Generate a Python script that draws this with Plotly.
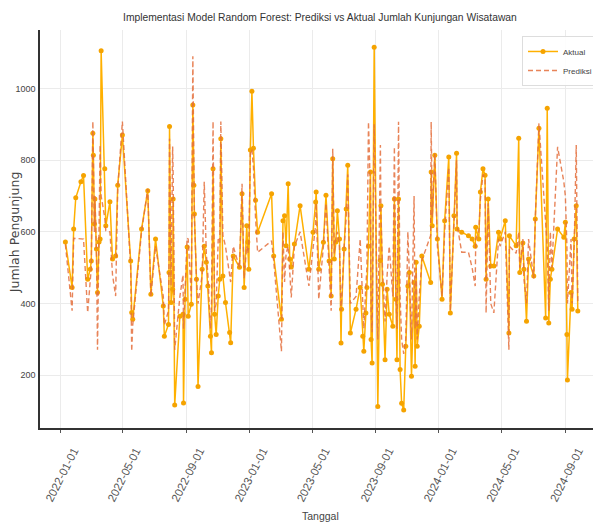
import plotly.graph_objects as go

dates = [
    "2022-01-10", "2022-01-23", "2022-01-26", "2022-01-30", "2022-02-09", "2022-02-14", "2022-02-22", "2022-02-27",
    "2022-03-01", "2022-03-04", "2022-03-05", "2022-03-07", "2022-03-08", "2022-03-11", "2022-03-13", "2022-03-16",
    "2022-03-18", "2022-03-20", "2022-03-27", "2022-03-29", "2022-04-06", "2022-04-11", "2022-04-17", "2022-04-21",
    "2022-04-30", "2022-05-16", "2022-05-18", "2022-05-20", "2022-06-06", "2022-06-18", "2022-06-24", "2022-07-03",
    "2022-07-18", "2022-07-20", "2022-07-28", "2022-07-29", "2022-07-30", "2022-08-02", "2022-08-05", "2022-08-06",
    "2022-08-09", "2022-08-19", "2022-08-25", "2022-08-26", "2022-08-29", "2022-09-02", "2022-09-04", "2022-09-10",
    "2022-09-13", "2022-09-15", "2022-09-16", "2022-09-20", "2022-09-23", "2022-10-01", "2022-10-05", "2022-10-09",
    "2022-10-12", "2022-10-17", "2022-10-19", "2022-10-22", "2022-10-25", "2022-10-28", "2022-11-01", "2022-11-04",
    "2022-11-06", "2022-11-10", "2022-11-15", "2022-11-23", "2022-11-25", "2022-11-30", "2022-12-12", "2022-12-17",
    "2022-12-21", "2022-12-26", "2022-12-28", "2022-12-30", "2023-01-02", "2023-01-05", "2023-01-08", "2023-01-12",
    "2023-01-16", "2023-02-12", "2023-02-16", "2023-03-03", "2023-03-06", "2023-03-09", "2023-03-12", "2023-03-16",
    "2023-03-19", "2023-03-22", "2023-03-28", "2023-04-08", "2023-04-25", "2023-05-03", "2023-05-08", "2023-05-09",
    "2023-05-14", "2023-05-23", "2023-05-28", "2023-06-03", "2023-06-07", "2023-06-10", "2023-06-13", "2023-06-16",
    "2023-06-19", "2023-06-23", "2023-06-26", "2023-06-27", "2023-07-02", "2023-07-06", "2023-07-09", "2023-07-14",
    "2023-07-25", "2023-08-02", "2023-08-07", "2023-08-09", "2023-08-13", "2023-08-15", "2023-08-18", "2023-08-22",
    "2023-08-23", "2023-08-25", "2023-08-29", "2023-09-05", "2023-09-10", "2023-09-11", "2023-09-14", "2023-09-19",
    "2023-09-23", "2023-09-27", "2023-10-04", "2023-10-07", "2023-10-10", "2023-10-12", "2023-10-15", "2023-10-18",
    "2023-10-21", "2023-10-25", "2023-10-29", "2023-11-02", "2023-11-05", "2023-11-09", "2023-11-14", "2023-11-16",
    "2023-11-18", "2023-11-20", "2023-11-24", "2023-11-29", "2023-12-16", "2023-12-17", "2023-12-19", "2023-12-24",
    "2023-12-29", "2024-01-07", "2024-01-12", "2024-01-20", "2024-01-23", "2024-01-30", "2024-02-04", "2024-02-05",
    "2024-02-14", "2024-02-27", "2024-03-05", "2024-03-11", "2024-03-12", "2024-03-18", "2024-03-21", "2024-03-26",
    "2024-03-30", "2024-04-01", "2024-04-05", "2024-04-10", "2024-04-16", "2024-04-25", "2024-04-28", "2024-05-08",
    "2024-05-15", "2024-05-16", "2024-05-29", "2024-06-03", "2024-06-05", "2024-06-11", "2024-06-13", "2024-06-18",
    "2024-06-22", "2024-07-02", "2024-07-05", "2024-07-12", "2024-07-25", "2024-07-28", "2024-07-31", "2024-08-03",
    "2024-08-06", "2024-08-17", "2024-08-29", "2024-09-01", "2024-09-04", "2024-09-05", "2024-09-12", "2024-09-14",
    "2024-09-18", "2024-09-22", "2024-09-25",
]

aktual = [
    572, 445, 608, 695, 740, 757, 468, 496,
    519, 875, 814, 622, 692, 552, 431, 572,
    580, 1105, 776, 617, 684, 524, 533, 730,
    870, 519, 375, 356, 608, 715, 426, 580,
    393, 309, 342, 487, 894, 403, 440, 692,
    117, 365, 370, 123, 412, 558, 365, 398,
    954, 730, 650, 468, 169, 496, 560, 515,
    449, 309, 263, 776, 370, 314, 421, 468,
    860, 477, 403, 319, 291, 533, 501, 706,
    445, 617, 572, 496, 828, 992, 833, 688,
    599, 706, 533, 356, 631, 645, 561, 734,
    524, 502, 566, 673, 496, 599, 683, 711,
    496, 571, 702, 519, 421, 804, 524, 572,
    659, 580, 290, 384, 552, 664, 786, 318,
    384, 445, 309, 267, 374, 445, 560, 767,
    300, 234, 1115, 113, 520, 673, 454, 243,
    440, 370, 337, 692, 412, 243, 692, 216,
    122, 103, 281, 449, 487, 197, 459, 225,
    515, 281, 337, 533, 459, 767, 617, 814,
    580, 412, 631, 809, 374, 645, 819, 608,
    599, 589, 580, 560, 613, 580, 711, 776,
    758, 468, 692, 505, 505, 599, 580, 631,
    318, 589, 561, 861, 487, 569, 496, 351,
    524, 477, 636, 889, 360, 945, 346, 468,
    496, 608, 585, 627, 314, 187, 431, 384,
    580, 673, 379,
]

prediksi = [
    565, 380, 582, 582, 582, 580, 375, 470,
    500, 908, 830, 600, 700, 540, 271, 560,
    842, 700, 640, 603, 600, 480, 421, 720,
    908, 500, 267, 340, 600, 720, 420, 560,
    420, 340, 380, 520, 860, 450, 838, 760,
    271, 420, 480, 330, 440, 583, 580, 420,
    1090, 760, 640, 470, 400, 480, 740, 540,
    480, 330, 400, 908, 380, 400, 580, 570,
    908, 590, 560, 480, 460, 560, 500, 734,
    470, 560, 540, 560, 820, 830, 780, 640,
    543, 575, 520, 267, 600, 460, 540, 560,
    500, 417, 560, 600, 449, 560, 620, 680,
    412, 560, 680, 500, 380, 832, 540, 580,
    600, 560, 380, 400, 560, 640, 760, 400,
    420, 580, 400, 330, 450, 500, 907, 700,
    380, 320, 900, 300, 842, 650, 500, 350,
    480, 560, 420, 837, 430, 330, 907, 420,
    300, 260, 300, 600, 480, 300, 700, 330,
    500, 300, 420, 520, 590, 907, 640, 820,
    560, 420, 600, 780, 380, 640, 800, 620,
    543, 543, 500, 449, 580, 600, 690, 760,
    750, 374, 680, 400, 374, 580, 560, 600,
    271, 560, 540, 600, 500, 580, 470, 400,
    580, 470, 640, 903, 600, 560, 380, 600,
    500, 837, 740, 700, 560, 400, 580, 400,
    560, 842, 400,
]

tick_dates = ["2022-01-01", "2022-05-01", "2022-09-01", "2023-01-01", "2023-05-01",
              "2023-09-01", "2024-01-01", "2024-05-01", "2024-09-01"]
y_ticks = [200, 400, 600, 800, 1000]

SANS = "Liberation Sans, Arial, sans-serif"

fig = go.Figure()
fig.add_trace(go.Scatter(
    x=dates, y=aktual, name="Aktual", mode="lines+markers",
    line=dict(color="#FFB000", width=1.5),
    marker=dict(color="#F5A300", size=5),
))
fig.add_trace(go.Scatter(
    x=dates, y=prediksi, name="Prediksi", mode="lines",
    line=dict(color="rgba(228,110,60,0.85)", width=1.4, dash="5px,3px"),
))

fig.update_layout(
    width=593, height=516,
    margin=dict(l=32, r=3, t=22, b=96),
    paper_bgcolor="white", plot_bgcolor="white",
    title=dict(text="Implementasi Model Random Forest: Prediksi vs Aktual Jumlah Kunjungan Wisatawan",
               x=0.526, xanchor="center", y=0.982, yanchor="middle",
               font=dict(family=SANS, size=10.3, color="#333")),
    font=dict(family=SANS, color="#333"),
    legend=dict(x=1.0, y=0.985, xanchor="right", yanchor="top",
                bgcolor="rgba(255,255,255,0.9)", bordercolor="#ddd", borderwidth=1,
                font=dict(size=8, family=SANS, color="#444"), itemwidth=30, tracegroupgap=0),
    showlegend=True,
    annotations=[
        dict(text="Jumlah Pengunjung", xref="paper", yref="paper", x=-0.0466, y=0.492,
             xanchor="center", yanchor="middle", textangle=-90, showarrow=False,
             font=dict(size=12.5, family="DejaVu Sans", color="#444")),
        dict(text="Tanggal", xref="paper", yref="paper", x=0.502, y=-0.222,
             xanchor="center", yanchor="middle", showarrow=False,
             font=dict(size=10.5, family=SANS, color="#444")),
    ],
)
fig.update_xaxes(
    type="date", range=["2021-11-22", "2024-11-03"], automargin=False,
    tickvals=tick_dates, ticktext=tick_dates, tickangle=-63,
    tickfont=dict(size=11.5, family=SANS, color="#555"),
    ticklabelshift=13, ticklabelstandoff=7,
    showgrid=True, gridcolor="#ebebeb", gridwidth=1,
    showline=True, linecolor="#333", linewidth=1.5,
    ticks="outside", ticklen=3, tickcolor="#555",
)
fig.update_yaxes(
    range=[53, 1163], tickvals=y_ticks, automargin=False,
    tickfont=dict(size=9, family=SANS, color="#444"),
    showgrid=True, gridcolor="#ebebeb", gridwidth=1,
    showline=True, linecolor="#333", linewidth=1.5,
    ticks="", zeroline=False, ticklabelstandoff=1,
)

fig.write_html("out.html")
